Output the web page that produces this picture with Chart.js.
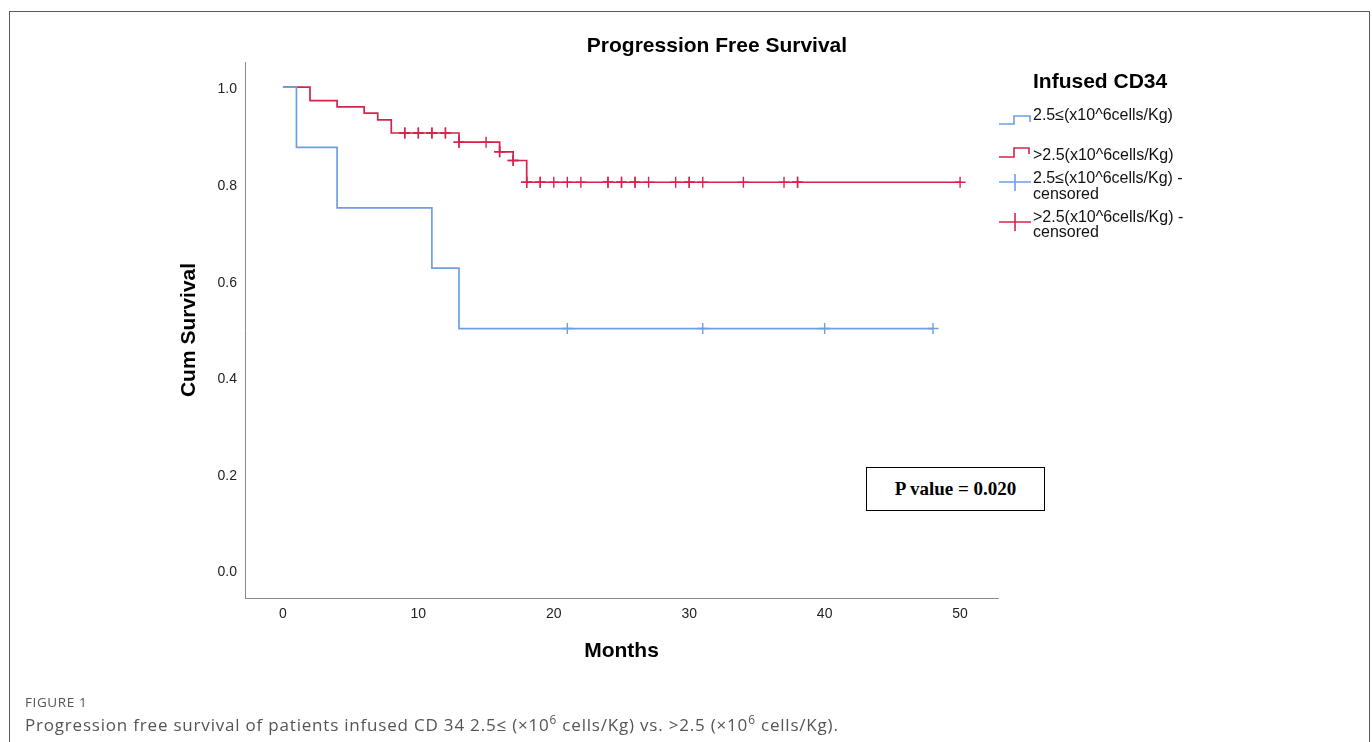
<!DOCTYPE html>
<html>
<head>
<meta charset="utf-8">
<script src="https://cdn.jsdelivr.net/npm/chart.js@4.4.1/dist/chart.umd.min.js"></script>
<style>
html,body{margin:0;padding:0;background:#fff;}
body{width:1372px;height:742px;position:relative;overflow:hidden;font-family:"Open Sans",sans-serif;}
#frame{position:absolute;left:9px;top:11px;width:1359px;height:780px;border:1px solid #5a5a5a;}
#chartBox{position:absolute;left:0;top:0;width:1372px;height:742px;}
#pbox{position:absolute;left:866px;top:467px;width:179px;height:44px;border:1px solid #000;box-sizing:border-box;
  font:bold 19px "Liberation Serif","Times New Roman",serif;color:#000;display:flex;align-items:center;justify-content:center;background:#fff;}
#figLabel{position:absolute;left:25px;top:693px;font-size:13.5px;color:#555;letter-spacing:0.6px;}
#caption{position:absolute;left:25px;top:713px;font-size:17px;color:#555;white-space:nowrap;letter-spacing:0.8px;}
#caption sup{font-size:0.7em;vertical-align:0.55em;line-height:0;}
</style>
</head>
<body>
<div id="frame"></div>
<div id="chartBox"><canvas id="myChart" width="1372" height="742"></canvas></div>
<div id="pbox">P value = 0.020</div>
<div id="figLabel">FIGURE 1</div>
<div id="caption">Progression free survival of patients infused CD 34 2.5≤ (×10<sup>6</sup> cells/Kg) vs. &gt;2.5 (×10<sup>6</sup> cells/Kg).</div>

<script>
// --- data ---
var groupLow='2.5≤(x10^6cells/Kg)';
var groupHigh='>2.5(x10^6cells/Kg)';

// step curve of the low CD34 group (months, cum survival)
var lowTimes=[0,1,4,11,13,48];
var lowSurv=[1.0,0.875,0.75,0.625,0.5,0.5];
var lowCensored=[21,31,40,48];

// step curve of the high CD34 group
var highTimes=[0,2,4,6,7,8,13,16,17,18,50];
var highSurv=[1.0,0.972,0.959,0.946,0.932,0.905,0.886,0.866,0.848,0.803,0.803];
// repeated months = more than one patient censored there
var highCensored=[9,9,10,10,11,11,12,12,13,13,15,16,16,17,17,18,18,19,19,20,21,22,24,24,25,25,26,26,27,29,30,30,31,34,37,38,38,50];

var xTicks=[0,10,20,30,40,50];
var yTicks=[0.0,0.2,0.4,0.6,0.8,1.0];

var blue='#6d9fe2';
var red='#d6234b';

function toPoints(times,surv){
	return times.map(function(t,i){return {x:t,y:surv[i]};});
}
// censored marks sit on the curve at their month
function survAt(times,surv,t){
	var v=surv[0];
	for(var i=0;i<times.length;i++){ if(times[i]<=t) v=surv[i]; }
	return v;
}
function censPoints(cens,times,surv){
	return cens.map(function(t){return {x:t,y:survAt(times,surv,t)};});
}

Chart.defaults.font.family='"Liberation Sans", Arial, sans-serif';
Chart.defaults.color='#111';

// title + legend block on the right
var decor={
	id:'decor',
	afterDraw:function(chart){
		var c=chart.ctx;
		c.save();
		c.fillStyle='#000';
		c.textBaseline='middle';
		c.textAlign='center';
		c.font='bold 21px "Liberation Sans", Arial, sans-serif';
		c.fillText('Progression Free Survival',717,46);

		c.textAlign='left';
		c.fillText('Infused CD34',1033,82);

		c.font='16px "Liberation Sans", Arial, sans-serif';
		c.fillStyle='#111';
		c.textBaseline='alphabetic';
		c.fillText(groupLow,1033,120);
		c.fillText(groupHigh,1033,160);
		c.fillText(groupLow+' -',1033,183);
		c.fillText('censored',1033,199);
		c.fillText(groupHigh+' -',1033,222);
		c.fillText('censored',1033,237);

		c.lineWidth=1.6;
		// step symbols
		c.strokeStyle=blue;
		c.beginPath();c.moveTo(999,124);c.lineTo(1014,124);c.lineTo(1014,116);c.lineTo(1030,116);c.lineTo(1030,122);c.stroke();
		c.strokeStyle=red;
		c.beginPath();c.moveTo(999,157);c.lineTo(1014,157);c.lineTo(1014,148);c.lineTo(1029,148);c.lineTo(1029,154);c.stroke();
		// censored symbols
		c.strokeStyle=blue;
		c.beginPath();c.moveTo(999,182);c.lineTo(1031,182);c.moveTo(1015,174);c.lineTo(1015,191);c.stroke();
		c.strokeStyle=red;
		c.beginPath();c.moveTo(999,222);c.lineTo(1031,222);c.moveTo(1015,213);c.lineTo(1015,231);c.stroke();
		c.restore();
	}
};

var myChart=document.getElementById('myChart');
var grafica=new Chart(myChart,{
	type:'line',
	data:{
		datasets:[
		{
			label:groupLow,
			data:toPoints(lowTimes,lowSurv),
			borderColor:blue,
			borderWidth:1.7,
			stepped:true,
			pointRadius:0,
			fill:false
		},
		{
			label:groupHigh,
			data:toPoints(highTimes,highSurv),
			borderColor:red,
			borderWidth:1.7,
			stepped:true,
			pointRadius:0,
			fill:false
		},
		{
			type:'scatter',
			label:groupLow+' - censored',
			data:censPoints(lowCensored,lowTimes,lowSurv),
			pointStyle:'cross',
			pointRadius:5.5,
			borderColor:blue,
			backgroundColor:blue,
			pointBorderWidth:1.4
		},
		{
			type:'scatter',
			label:groupHigh+' - censored',
			data:censPoints(highCensored,highTimes,highSurv),
			pointStyle:'cross',
			pointRadius:5.5,
			borderColor:red,
			backgroundColor:red,
			pointBorderWidth:1.4
		}
		]
	},
	options:{
		responsive:false,
		devicePixelRatio:1,
		animation:false,
		layout:{padding:{top:62,right:374,bottom:0,left:0}},
		plugins:{legend:{display:false},tooltip:{enabled:false},title:{display:false}},
		scales:{
			x:{
				type:'linear',
				min:-2.8,
				max:52.8,
				grid:{display:false,drawTicks:false},
				border:{display:true,color:'#8a8a8a',width:1},
				afterBuildTicks:function(s){ s.ticks=xTicks.map(function(v){return {value:v};}); },
				afterFit:function(s){ s.height=144; },
				ticks:{padding:8,font:{size:14},color:'#222',maxRotation:0,callback:function(v){return String(v);}},
				title:{display:true,text:'Months',color:'#000',font:{size:21,weight:'bold'},padding:{top:0,bottom:78}}
			},
			y:{
				type:'linear',
				min:-0.058,
				max:1.052,
				grid:{display:false,drawTicks:false},
				border:{display:true,color:'#8a8a8a',width:1},
				afterBuildTicks:function(s){ s.ticks=yTicks.map(function(v){return {value:v};}); },
				afterFit:function(s){ s.width=245; },
				ticks:{padding:8,font:{size:14},color:'#222',labelOffset:2.5,callback:function(v){return v.toFixed(1);}},
				title:{display:true,text:'Cum Survival',color:'#000',font:{size:21,weight:'bold'},padding:{top:177,bottom:0}}
			}
		}
	},
	plugins:[decor]
});
</script>
</body>
</html>
